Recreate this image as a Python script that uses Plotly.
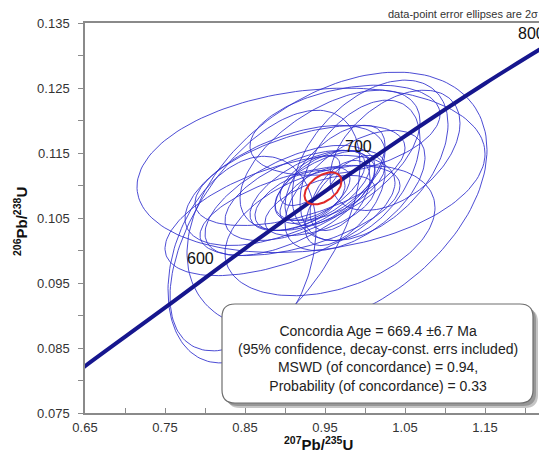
import numpy as np
import plotly.graph_objects as go

# ---------------- data ----------------
# Concordia curve as traced in the reference
conc_x = [0.645, 0.65, 0.75, 0.85, 0.95, 1.05, 1.15, 1.23]
conc_y = [0.0817, 0.0822, 0.0912, 0.1003, 0.1091, 0.1176, 0.1257, 0.1318]

# Age tick marks on the concordia (Ma) and their 207Pb/235U positions
age_ticks = [600, 700, 800]
age_tick_x = [0.814, 1.011, 1.2275]

# Data-point error ellipses (2 sigma): centre, half-widths, error correlation
ell_x = [0.9325, 1.00625, 0.965, 0.95625, 0.84625, 0.875, 0.975, 0.91875, 0.93125, 0.91875,
         0.94375, 0.90625, 0.9625, 0.9875, 0.900, 0.94375, 0.975, 0.91875, 0.99375, 0.95625,
         0.89375, 1.0375, 0.93125, 0.9375, 0.95625, 0.91875, 0.96875]
ell_y = [0.11233, 0.11387, 0.10754, 0.10307, 0.09860, 0.10307, 0.11850, 0.11155, 0.10924, 0.10847,
         0.11001, 0.10770, 0.11155, 0.10924, 0.11001, 0.10693, 0.10770, 0.10616, 0.11233, 0.11387,
         0.10538, 0.11541, 0.11078, 0.10847, 0.11001, 0.10770, 0.10847]
ell_sx = [0.2175, 0.0975, 0.1875, 0.13125, 0.0925, 0.11875, 0.11875, 0.13125, 0.075, 0.09375,
          0.05625, 0.10625, 0.0625, 0.0875, 0.125, 0.06875, 0.05, 0.125, 0.075, 0.1125,
          0.14375, 0.08125, 0.0375, 0.04375, 0.06875, 0.05625, 0.0375]
ell_sy = [0.01265, 0.01234, 0.0199, 0.01003, 0.01589, 0.01851, 0.00694, 0.00771, 0.00617, 0.00694,
          0.0054, 0.00848, 0.00771, 0.00925, 0.00925, 0.00463, 0.00694, 0.00694, 0.0108, 0.0108,
          0.00925, 0.00925, 0.00386, 0.00432, 0.0054, 0.00463, 0.0054]
ell_rho = [0.2, 0.45, 0.4, 0.35, 0.3, 0.55, 0.35, 0.55, 0.6, 0.55,
           0.6, 0.6, 0.6, 0.55, 0.55, 0.55, 0.6, 0.55, 0.45, 0.55,
           0.55, 0.45, 0.6, 0.6, 0.55, 0.5, 0.5]

# Concordia age ellipse
mean_x, mean_y, mean_sx, mean_sy, mean_rho = 0.9475, 0.10955, 0.0231, 0.00247, 0.45

x_ticks = [0.65, 0.75, 0.85, 0.95, 1.05, 1.15]
y_ticks = [0.075, 0.085, 0.095, 0.105, 0.115, 0.125, 0.135]

box_lines = ["Concordia Age = 669.4 \u00b16.7 Ma",
             "(95% confidence, decay-const. errs included)",
             "MSWD (of concordance) = 0.94,",
             "Probability (of concordance) = 0.33"]
note_text = "data-point error ellipses are 2\u03c3"
x_title = "<b><sup>207</sup>Pb/<sup>235</sup>U</b>"
y_title = "<b><sup>206</sup>Pb/<sup>238</sup>U</b>"


def ellipse(cx, cy, sx, sy, rho, n=160):
    t = np.linspace(0, 2 * np.pi, n)
    x = cx + sx * np.cos(t)
    y = cy + sy * (rho * np.cos(t) + np.sqrt(1 - rho ** 2) * np.sin(t))
    return x, y


fig = go.Figure()

ex, ey = [], []
for cx, cy, sx, sy, r in zip(ell_x, ell_y, ell_sx, ell_sy, ell_rho):
    x, y = ellipse(cx, cy, sx, sy, r)
    ex += list(x) + [None]
    ey += list(y) + [None]
fig.add_trace(go.Scatter(x=ex, y=ey, mode="lines", line=dict(color="rgba(45,45,205,0.85)", width=1),
                         hoverinfo="skip", showlegend=False))

fig.add_trace(go.Scatter(x=conc_x, y=conc_y, mode="lines", line=dict(color="#16168e", width=4, shape="spline"),
                         showlegend=False))

mx, my = ellipse(mean_x, mean_y, mean_sx, mean_sy, mean_rho)
fig.add_trace(go.Scatter(x=mx, y=my, mode="lines", line=dict(color="#e02828", width=2), showlegend=False))

# age labels
age_tick_y = np.interp(age_tick_x, conc_x, conc_y)
for a, tx, ty in zip(age_ticks, age_tick_x, age_tick_y):
    fig.add_annotation(x=tx, y=ty, text=str(a), showarrow=False, xanchor="right", yanchor="bottom",
                       xshift=0, yshift=1, font=dict(family="Liberation Sans, Arial", size=16, color="#111"))

# layout geometry, in reference-picture pixels (page has an 8px body margin)
OFF = 8
L, R, T, B = 85, 547, 23, 413
W, H = R - L, B - T
FIG_W, FIG_H = 547 - OFF, 461 - OFF


def px2paper(px, py):
    return (px - L) / W, (B - py) / H


def rounded_path(x0, y0, x1, y1, r):
    def p(px, py):
        u, v = px2paper(px, py)
        return f"{u:.5f},{v:.5f}"
    return (f"M {p(x0 + r, y0)} L {p(x1 - r, y0)} Q {p(x1, y0)} {p(x1, y0 + r)} "
            f"L {p(x1, y1 - r)} Q {p(x1, y1)} {p(x1 - r, y1)} L {p(x0 + r, y1)} "
            f"Q {p(x0, y1)} {p(x0, y1 - r)} L {p(x0, y0 + r)} Q {p(x0, y0)} {p(x0 + r, y0)} Z")


bx0, by0, bx1, by1 = 222, 304, 533, 403
fig.add_shape(type="path", xref="paper", yref="paper", layer="above",
              path=rounded_path(bx0 + 5, by0 + 5, bx1 + 5, by1 + 5, 13),
              fillcolor="rgba(150,150,150,0.55)", line=dict(width=0))
fig.add_shape(type="path", xref="paper", yref="paper", layer="above",
              path=rounded_path(bx0 + 3, by0 + 3, bx1 + 3, by1 + 3, 13),
              fillcolor="rgba(120,120,120,0.6)", line=dict(width=0))
fig.add_shape(type="path", xref="paper", yref="paper", layer="above",
              path=rounded_path(bx0, by0, bx1, by1, 13),
              fillcolor="white", line=dict(color="#6e6e6e", width=1.2))
cx_, cy_ = px2paper((bx0 + bx1) / 2, 358)
fig.add_annotation(xref="paper", yref="paper", x=cx_, y=cy_, text="<br>".join(box_lines), showarrow=False,
                   align="center", xanchor="center", yanchor="middle",
                   font=dict(family="Liberation Sans, Arial", size=14, color="#222"))

nx, ny = px2paper(540, 14)
fig.add_annotation(xref="paper", yref="paper", x=nx, y=ny, text=note_text, showarrow=False,
                   xanchor="right", yanchor="middle",
                   font=dict(family="Liberation Sans, Arial", size=11, color="#333"))

tx_, ty_ = px2paper(318, 443)
fig.add_annotation(xref="paper", yref="paper", x=tx_, y=ty_, text=x_title, showarrow=False,
                   xanchor="center", yanchor="middle",
                   font=dict(family="Liberation Sans, Arial", size=15, color="#111"))
tx_, ty_ = px2paper(20, 222)
fig.add_annotation(xref="paper", yref="paper", x=tx_, y=ty_, text=y_title, showarrow=False, textangle=-90,
                   xanchor="center", yanchor="middle",
                   font=dict(family="Liberation Sans, Arial", size=15, color="#111"))

axis_font = dict(family="Liberation Sans, Arial", size=13, color="#333")
fig.update_xaxes(range=[0.65, 0.65 + W / 800], tickvals=x_ticks, tickformat=".2f", automargin=False,
                 showgrid=False, zeroline=False, showline=True, linecolor="#8a8a8a", linewidth=1.5,
                 mirror=True, ticks="inside", ticklen=5, tickcolor="#8a8a8a",
                 minor=dict(dtick=0.05, tick0=0.65, ticks="inside", ticklen=5, tickcolor="#8a8a8a"),
                 tickfont=axis_font, ticklabelstandoff=2)
fig.update_yaxes(range=[0.075, 0.135], tickvals=y_ticks, tickformat=".3f", automargin=False,
                 showgrid=False, zeroline=False, showline=True, linecolor="#8a8a8a", linewidth=1.5,
                 ticks="outside", ticklen=5, tickcolor="#8a8a8a",
                 minor=dict(dtick=0.005, tick0=0.075, ticks="outside", ticklen=5, tickcolor="#8a8a8a"),
                 tickfont=axis_font, ticklabelstandoff=6)

fig.update_layout(width=FIG_W, height=FIG_H,
                  margin=dict(l=L - OFF, r=FIG_W - (R - OFF), t=T - OFF, b=FIG_H - (B - OFF), autoexpand=False),
                  plot_bgcolor="white", paper_bgcolor="white", showlegend=False)

fig.write_html("out.html")
